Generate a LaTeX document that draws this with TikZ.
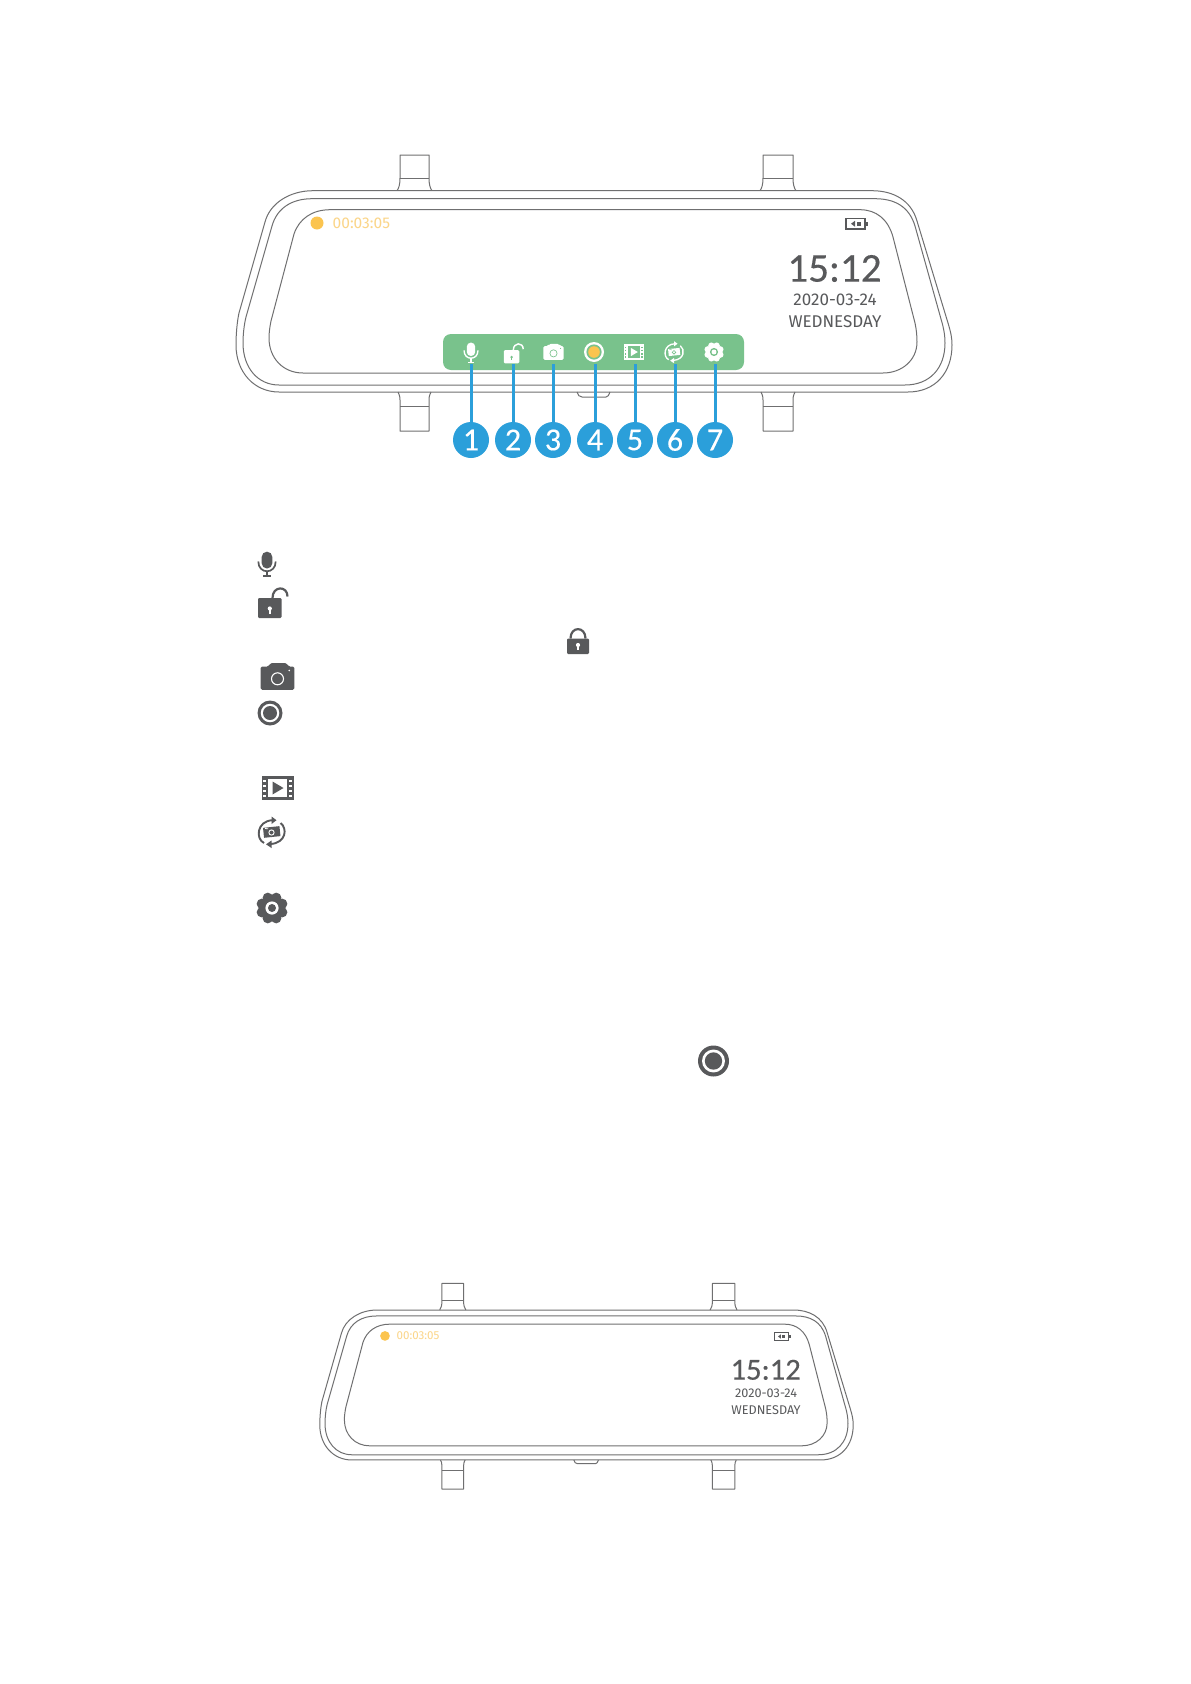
\documentclass[tikz,border=0pt]{standalone}
\usepackage{fontspec}
\setmainfont{Fira Sans}
\newfontfamily\clockfont[FakeBold=.35]{Carlito}
\newfontfamily\digitfont[FakeBold=.3]{Carlito}
\definecolor{ink}{HTML}{58595B}
\definecolor{wire}{HTML}{6F6F70}
\definecolor{amber}{HTML}{FBC44F}
\definecolor{amberlt}{HTML}{FBD588}
\definecolor{barg}{HTML}{79C28C}
\definecolor{callout}{HTML}{2B9FDA}
\tikzset{
  x=1pt,y=-1pt,
  wireline/.style={draw=wire,line width=1pt,line join=round},
  calloutnum/.style={circle,fill=callout,text=white,minimum size=36,inner sep=0,font=\digitfont\fontsize{32}{33}\selectfont},
  calloutline/.style={draw=callout,line width=3pt},
  mirtext/.style={text=ink,inner sep=0},
}
% ---- icons: #1 x, #2 y, #3 scale, #4 foreground, #5 cut-out colour
\newcommand{\iconmic}[5]{\begin{scope}[shift={(#1,#2)},scale=#3]
  \fill[#4,rounded corners=#3*5.2pt] (-5.3,-11.8) rectangle (5.3,5);
  \draw[#4,line width=#3*1.7pt] (-8.7,-2) .. controls (-8.7,11) and (8.7,11) .. (8.7,-2);
  \draw[#4,line width=#3*1.7pt] (0,7) -- (0,12.5) (-4,12.8) -- (4,12.8);
\end{scope}}
\newcommand{\iconopen}[5]{\begin{scope}[shift={(#1,#2)},scale=#3]
  \fill[#4,rounded corners=1.2] (-14,-3.5) rectangle (9.5,16.5);
  \draw[#4,line width=#3*2.2pt] (0.5,-3.5) .. controls (0.5,-16) and (15.5,-16) .. (15.5,-5);
  \fill[#5] (-2.2,7) circle[radius=2.1];
  \fill[#5] (-3,7) rectangle (-1.4,12);
\end{scope}}
\newcommand{\iconclosed}[5]{\begin{scope}[shift={(#1,#2)},scale=#3]
  \fill[#4,rounded corners=1.2] (-11,-3.5) rectangle (11,12);
  \draw[#4,line width=#3*2.2pt] (-7.5,-3.5) .. controls (-7.5,-16) and (7.5,-16) .. (7.5,-3.5);
  \fill[#5] (0,3) circle[radius=2.1];
  \fill[#5] (-.8,3) rectangle (.8,8);
\end{scope}}
\newcommand{\iconcam}[5]{\begin{scope}[shift={(#1,#2)},scale=#3]
  \fill[#4,rounded corners=1.5] (-16.8,-10) -- (-9,-10) -- (-7,-13.5) -- (9,-13.5) -- (11,-10) -- (16.8,-10) -- (16.8,13.3) -- (-16.8,13.3) -- cycle;
  \draw[#5,line width=#3*1.1pt] (0,2.3) circle[radius=6];
  \fill[#5] (11.8,-6) circle[radius=.9];
\end{scope}}
\newcommand{\iconvideo}[5]{\begin{scope}[shift={(#1,#2)},scale=#3]
  \fill[#4] (-16,-12) rectangle (16,12);
  \fill[#5] (-10,-9) rectangle (9.5,9);
  \fill[#4] (-5,-6.5) -- (6,0) -- (-5,6.5) -- cycle;
  \foreach \yy in {-8.5,-3.5,1.5,6.5}{
    \fill[#5] (-14.5,\yy) rectangle (-11.8,\yy+2.4);
    \fill[#5] (11.2,\yy) rectangle (14.2,\yy+2.4);}
\end{scope}}
\newcommand{\iconrot}[5]{\begin{scope}[shift={(#1,#2)},scale=#3]
  \draw[#4,line width=#3*1.9pt] (-7.5,11) .. controls (-16,7) and (-15,-11) .. (1,-11.8);
  \fill[#4] (0,-15.5) -- (5,-11.8) -- (0,-8) -- cycle;
  \draw[#4,line width=#3*1.9pt] (9,-9) .. controls (16,-4) and (15,11) .. (-1,12);
  \fill[#4] (0,8.5) -- (-5.5,12.3) -- (0,16) -- cycle;
  \fill[#4,rotate=6] (-8,-5) rectangle (8.5,5);
  \draw[#5,line width=#3*.9pt] (0,.5) circle[radius=2.6];
  \draw[#5,line width=#3*.8pt] (-6.5,-3.5) -- (-3.5,-3.2);
\end{scope}}
\newcommand{\icongear}[5]{\begin{scope}[shift={(#1,#2)},scale=#3]
  \fill[#4] (0,0) circle[radius=12.5];
  \foreach \aa in {22.5,67.5,...,337.5}{\fill[#4] (\aa:11) circle[radius=5.2];}
  \fill[#5] (0,0) circle[radius=6.6];
  \fill[#4] (0,0) circle[radius=4];
\end{scope}}
\newcommand{\iconrec}[4]{% x y r colour
  \fill[ink] (#1,#2) circle[radius=#3];
  \fill[white] (#1,#2) circle[radius=#3*.74];
  \fill[ink] (#1,#2) circle[radius=#3*.56];}
% ---- the mirror; #1 prefix for node names, #2 text offset y, #3 time offset x
\newcommand{\mirror}[3]{%
  \foreach \xa/\xb in {400/429,763/793}{
    \draw[wireline] (\xa-3,190.7) .. controls (\xa-1,188) and (\xa,184) .. (\xa,178) -- (\xa,155) -- (\xb,155) -- (\xb,178) .. controls (\xb,184) and (\xb+1,188) .. (\xb+3,190.7);
    \draw[wireline] (\xa,178) -- (\xb,178);
    \draw[wireline] (\xa-2,392) .. controls (\xa-1,394) and (\xa,396) .. (\xa,400) -- (\xa,431) -- (\xb,431) -- (\xb,400) .. controls (\xb,396) and (\xb+1,394) .. (\xb+2,392);
    \draw[wireline] (\xa,406) -- (\xb,406);
  }
  \draw[wireline] (577,392) .. controls (578,395) and (579,397) .. (582,397) -- (606,397) .. controls (608,397) and (609,395) .. (610,392);
  \draw[wireline] (313,190.7) -- (872,190.7) .. controls (893,190.7) and (911,200) .. (917,221) -- (948,323) .. controls (951,333) and (952,338) .. (952,345) .. controls (952,373) and (935,392) .. (908,392) -- (279,392) .. controls (254,392) and (236,372) .. (236,345) .. controls (236,335) and (237,322) .. (239,313) -- (265,222) .. controls (270,203) and (290,190.7) .. (313,190.7) -- cycle;
  \draw[wireline] (312,198.7) -- (875,198.7) .. controls (894,198.7) and (909,206) .. (915,226) -- (941,319) .. controls (944,329) and (945,336) .. (945,343) .. controls (945,368) and (930,385) .. (905,385) -- (279,385) .. controls (258,385) and (243,368) .. (243,343) .. controls (243,335) and (244,325) .. (246,317) -- (272,226) .. controls (277,208) and (292,198.7) .. (312,198.7) -- cycle;
  \draw[wireline] (330,209.7) -- (860,209.7) .. controls (876,209.7) and (888,219) .. (893,237) -- (915,323) .. controls (916.5,330) and (917,336) .. (917,342) .. controls (917,360) and (902,373) .. (883,373) -- (303,373) .. controls (283,373) and (269,358) .. (269,338) .. controls (269,332) and (270,326) .. (271,321) -- (294,234) .. controls (299,219) and (312,209.7) .. (330,209.7) -- cycle;
  \begin{scope}[shift={(0,#2)}]
  \fill[amber] (317+#3,223) circle[radius=6.5];
  \node[text=amberlt,inner sep=0,anchor=west,font=\fontsize{15.5}{17}\selectfont] (#1time) at (332.5+#3,223) {00:03:05};
  \draw[ink,line width=1.3pt] (846,218.5) rectangle (865,229);
  \fill[ink] (865,221.5) rectangle (868,226);
  \fill[ink] (851,223.7) -- (855,220.8) -- (855,226.7) -- cycle;
  \fill[ink] (856.5,221.5) rectangle (860.5,226);
  \node[mirtext,font=\clockfont\fontsize{41}{44}\selectfont] (#1clock) at (834.5,268.5) {15:12};
  \node[mirtext,font=\fontsize{17}{18}\selectfont] (#1date) at (835,300) {2020-03-24};
  \node[mirtext,font=\fontsize{17}{18}\selectfont] (#1day) at (835,322) {WEDNESDAY};
  \end{scope}
}
\begin{document}
\begin{tikzpicture}
\path[use as bounding box,fill=white] (0,0) rectangle (1191,1684);
% ---------- top mirror
\mirror{top}{0}{0}
\fill[barg,rounded corners=8] (443,334) rectangle (744,370);
\iconmic{471}{352}{.8}{white}{barg}
\iconopen{513}{352.5}{.66}{white}{barg}
\iconcam{553.5}{352}{.6}{white}{barg}
\fill[white] (594,352) circle[radius=10];
\fill[barg] (594,352) circle[radius=7.6];
\fill[amber] (594,352) circle[radius=5.8];
\iconvideo{634}{352}{.64}{white}{barg}
\iconrot{674}{352}{.7}{white}{barg}
\icongear{714}{352}{.62}{white}{barg}
% ---------- callouts
\foreach \nn/\xx in {1/471,2/513,3/553,4/595,5/635,6/675,7/715}{
  \coordinate (e\nn) at (\xx,364);
  \node[calloutnum] (n\nn) at (\xx,440) {\nn};
  \draw[calloutline] (e\nn) -- (n\nn);
}
% ---------- legend icons
\iconmic{267}{563.5}{1}{ink}{white}
\iconopen{272}{601.5}{1}{ink}{white}
\iconclosed{578}{642}{1}{ink}{white}
\iconcam{277.5}{676.5}{1}{ink}{white}
\iconrec{270}{713}{12.5}{}
\iconvideo{277.5}{788}{1}{ink}{white}
\iconrot{271.5}{832}{1}{ink}{white}
\icongear{272}{908}{1}{ink}{white}
\iconrec{713.5}{1061}{15.5}{}
% ---------- lower mirror
\begin{scope}[shift={(143.97,1167.93)},scale=.745,transform shape]
\mirror{low}{2.5}{6.5}
\end{scope}
\end{tikzpicture}
\end{document}
